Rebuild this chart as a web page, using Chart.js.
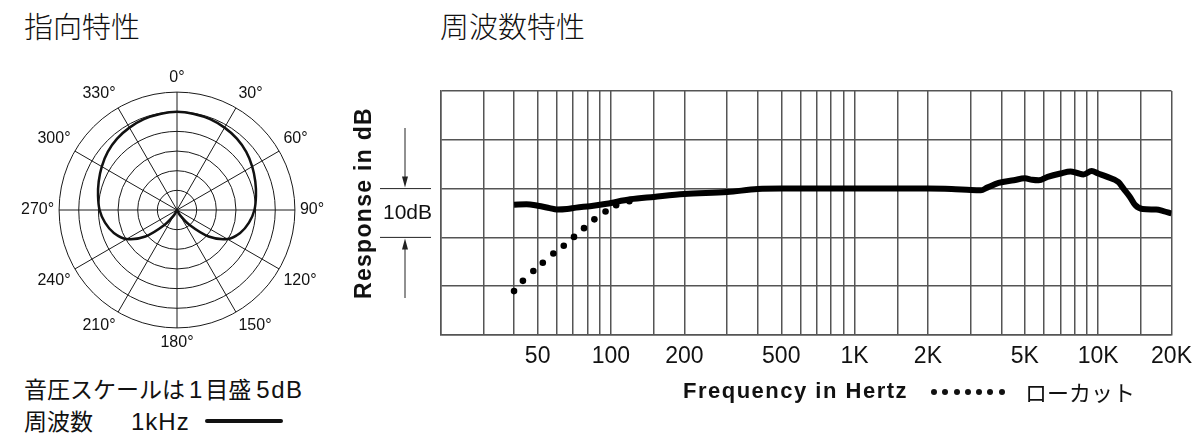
<!DOCTYPE html>
<html>
<head>
<meta charset="utf-8">
<script src="https://cdn.jsdelivr.net/npm/chart.js@4"></script>
<style>
  body { margin: 0; width: 1200px; height: 440px; background: #fff; position: relative; overflow: hidden;
         font-family: "Noto Sans CJK JP", sans-serif; color: #111; }
  .abs { position: absolute; white-space: nowrap; }
  .title { font-size: 29px; line-height: 29px; font-weight: 300; }
  .note { font-size: 23px; line-height: 23px; }
  .lat { font-family: 'Liberation Sans', sans-serif; font-size: 24px; }
  .dots { font-size: 0; line-height: 0; }
  .dot { display: inline-block; width: 6px; height: 6px; border-radius: 50%; background: #111; margin-right: 5.3px; }
</style>
</head>
<body>
<div class="abs title" style="left:24px;top:11px;">指向特性</div>
<div class="abs title" style="left:440px;top:11px;">周波数特性</div>

<div class="abs" style="left:17px;top:54px;width:312px;height:312px;"><canvas id="polar"></canvas></div>
<div class="abs" style="left:340px;top:60px;width:860px;height:380px;"><canvas id="freq"></canvas></div>

<div class="abs note" style="left:24px;top:377px;">音圧スケールは<span class="lat" style="margin:0 3px 0 4px;">1</span>目盛<span class="lat" style="margin-left:5px;letter-spacing:1.5px;">5dB</span></div>
<div class="abs note" style="left:24px;top:409px;">周波数<span class="lat" style="margin-left:38px;letter-spacing:1px;">1kHz</span></div>
<div class="abs" style="left:205px;top:419px;width:78px;height:3.5px;background:#111;border-radius:2px;"></div>

<div class="abs" style="left:363px;top:203px;transform:translate(-50%,-50%) rotate(-90deg);font:bold 23px 'Liberation Sans',sans-serif;letter-spacing:1.3px;">Response in dB</div>
<div class="abs" style="left:383px;top:200px;font:21px/24px 'Liberation Sans',sans-serif;">10dB</div>

<div class="abs" style="left:683px;top:378px;font:bold 22px/26px 'Liberation Sans',sans-serif;letter-spacing:1.5px;">Frequency in Hertz</div>
<div class="abs dots" style="left:931px;top:389px;"><span class="dot"></span><span class="dot"></span><span class="dot"></span><span class="dot"></span><span class="dot"></span><span class="dot"></span><span class="dot"></span></div>
<div class="abs" style="left:1025px;top:380px;font-size:22px;line-height:22px;">ローカット</div>

<script>
// polar pattern, 1kHz (dB, 0 = on-axis)
const polarAngles = [0, 10, 20, 30, 40, 50, 60, 70, 80, 90, 100, 110, 120, 130, 140, 150, 160, 170,
                     180, 190, 200, 210, 220, 230, 240, 250, 260, 270, 280, 290, 300, 310, 320, 330, 340, 350];
const polarDb = [0, -0.2, -0.4, -0.8, -1.3, -2.0, -2.9, -3.8, -4.6, -5.3, -6.4, -7.9, -10.2, -14.5, -20, -23.5, -25, -25,
                 -25, -25, -25, -23.5, -20, -14.5, -10.2, -7.9, -6.4, -5.3, -4.6, -3.8, -2.9, -2.0, -1.3, -0.8, -0.4, -0.2];

// frequency response
const respFreq = [40, 45, 50, 56, 60, 66, 72, 82, 96, 120, 150, 200, 300, 400, 500, 1000, 2000, 2500, 3000, 3300,
                  3500, 3900, 4500, 5000, 5350, 5700, 6200, 7000, 7700, 8200, 8700, 9400, 10000, 10900, 12100, 12700,
                  13500, 14200, 15200, 17300, 18500, 20000];
const respDb = [-3.3, -3.2, -3.5, -4.0, -4.3, -4.2, -3.9, -3.6, -3.1, -2.2, -1.7, -1.1, -0.7, -0.1, 0, 0, 0, -0.1, -0.3, -0.35,
                0.2, 1.15, 1.7, 2.1, 1.8, 1.7, 2.4, 3.1, 3.5, 3.2, 2.9, 3.6, 3.1, 2.4, 1.35, 0,
                -1.7, -3.4, -4.2, -4.3, -4.6, -5.1];

// low cut (dotted)
const lowFreq = [40, 43.5, 48, 52.5, 58, 64, 70.5, 77.5, 85.5, 95, 105, 119];
const lowDb = [-21.0, -18.9, -16.9, -15.2, -13.3, -11.7, -9.9, -8.1, -6.3, -4.7, -3.4, -2.6];

const gridFreqs = [20, 30, 40, 50, 60, 70, 80, 90, 100, 150, 200, 300, 400, 500, 600, 700, 800, 900,
                   1000, 1500, 2000, 3000, 4000, 5000, 6000, 7000, 8000, 9000, 10000, 15000, 20000];
const tickFreqs = [50, 100, 200, 500, 1000, 2000, 5000, 10000, 20000];
const tickText = ['50', '100', '200', '500', '1K', '2K', '5K', '10K', '20K'];

new Chart(document.getElementById('polar'), {
    type: 'radar',
    data: {
        labels: polarAngles.map(a => a + '°'),
        datasets: [{
            data: polarDb,
            borderColor: '#111',
            borderWidth: 2.5,
            fill: false,
            pointRadius: 0,
            tension: 0.3
        }]
    },
    options: {
        animation: false,
        responsive: true,
        maintainAspectRatio: false,
        plugins: { legend: { display: false }, tooltip: { enabled: false } },
        scales: {
            r: {
                min: -25,
                max: 5,
                ticks: { display: false, stepSize: 5 },
                grid: { circular: true, color: '#1a1a1a', lineWidth: 1 },
                angleLines: {
                    color: '#1a1a1a',
                    lineWidth: (c) => polarAngles[c.index] % 30 === 0 ? 1 : 0
                },
                pointLabels: {
                    color: '#111',
                    padding: 5,
                    font: { family: 'Liberation Sans', size: 16 },
                    callback: (label, i) => polarAngles[i] % 30 === 0 ? label : ''
                }
            }
        }
    }
});

// 10dB marker with arrows left of the plot
const dbMarker = {
    id: 'dbMarker',
    afterDraw(chart) {
        const ctx = chart.ctx;
        const y = chart.scales.y;
        const y0 = y.getPixelForValue(0);
        const y1 = y.getPixelForValue(-10);
        const xm = 65;
        ctx.save();
        ctx.strokeStyle = '#222';
        ctx.fillStyle = '#222';
        ctx.lineWidth = 1;
        ctx.beginPath();
        ctx.moveTo(40, y0); ctx.lineTo(91, y0);
        ctx.moveTo(40, y1); ctx.lineTo(91, y1);
        ctx.moveTo(xm, 68); ctx.lineTo(xm, y0 - 8);
        ctx.moveTo(xm, y1 + 8); ctx.lineTo(xm, 238);
        ctx.stroke();
        ctx.beginPath();
        ctx.moveTo(xm - 3, y0 - 12); ctx.lineTo(xm + 3, y0 - 12); ctx.lineTo(xm, y0 - 1); ctx.closePath();
        ctx.moveTo(xm - 3, y1 + 12); ctx.lineTo(xm + 3, y1 + 12); ctx.lineTo(xm, y1 + 1); ctx.closePath();
        ctx.fill();
        ctx.restore();
    }
};

new Chart(document.getElementById('freq'), {
    type: 'line',
    data: {
        datasets: [{
            data: respFreq.map((f, i) => ({ x: f, y: respDb[i] })),
            borderColor: '#000',
            borderWidth: 6,
            pointRadius: 0,
            cubicInterpolationMode: 'monotone',
            fill: false
        }, {
            data: lowFreq.map((f, i) => ({ x: f, y: lowDb[i] })),
            showLine: false,
            pointRadius: 3.3,
            pointBackgroundColor: '#000',
            pointBorderWidth: 0
        }]
    },
    options: {
        animation: false,
        responsive: true,
        maintainAspectRatio: false,
        layout: { padding: { left: 100.7, right: 27.3, top: 31, bottom: 0 } },
        plugins: { legend: { display: false }, tooltip: { enabled: false } },
        scales: {
            x: {
                type: 'logarithmic',
                min: 20,
                max: 20000,
                afterBuildTicks: (s) => { s.ticks = gridFreqs.map(v => ({ value: v })); },
                afterFit: (s) => { s.height = 105; },
                grid: { color: '#555', lineWidth: 1.5, drawTicks: false },
                border: { color: '#555', width: 1.5 },
                ticks: {
                    autoSkip: false,
                    maxRotation: 0,
                    padding: 8,
                    color: '#111',
                    font: { family: "'Liberation Sans Narrow', 'Liberation Sans', sans-serif", size: 23 },
                    callback: (v) => {
                        const k = tickFreqs.indexOf(v);
                        return k >= 0 ? tickText[k] : '';
                    }
                }
            },
            y: {
                min: -30,
                max: 20,
                afterFit: (s) => { s.width = 0; },
                grid: { color: '#555', lineWidth: 1.5, drawTicks: false },
                border: { color: '#555', width: 1.5 },
                ticks: { display: false, stepSize: 10 }
            }
        }
    },
    plugins: [dbMarker]
});
</script>
</body>
</html>
